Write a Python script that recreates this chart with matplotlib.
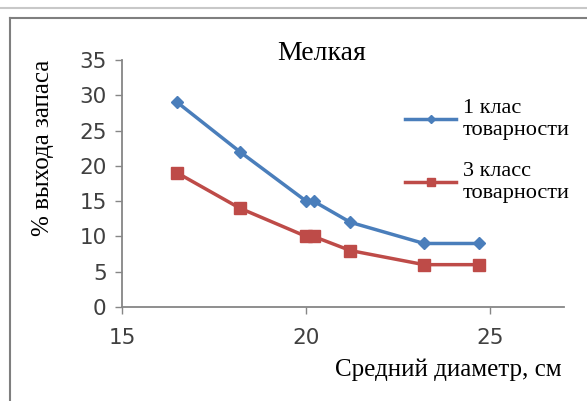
import numpy as np
import matplotlib
matplotlib.use('Agg')
import matplotlib.pyplot as plt
from matplotlib.lines import Line2D

# --------------------------------------------------
# Data
# --------------------------------------------------
diameter = [16.5, 18.2, 20.0, 20.2, 21.2, 23.2, 24.7]
class1 = [29, 22, 15, 15, 12, 9, 9]
class3 = [19, 14, 10, 10, 8, 6, 6]

title = 'Мелкая'
label1 = '1 клас\nтоварности'
label3 = '3 класс\nтоварности'
xlabel = 'Средний диаметр, см'
ylabel = '% выхода запаса'

serif = ['Liberation Serif', 'DejaVu Serif']

fig = plt.figure(figsize=(5.87, 4.01), dpi=100)
ax = fig.add_axes([122 / 587, 1 - 307 / 401, (564 - 122) / 587, (307 - 60) / 401])

ax.plot(diameter, class1, color='#4A7EBB', lw=2.5, marker='D', ms=6.5,
        label=label1)
ax.plot(diameter, class3, color='#BE4B48', lw=2.5, marker='s', ms=8.5,
        label=label3)

ax.set_xlim(15, 27)
ax.set_ylim(0, 35)
ax.set_xticks([15, 20, 25])
ax.set_yticks(np.arange(0, 36, 5))

for side in ['top', 'right']:
    ax.spines[side].set_visible(False)
for side in ['left', 'bottom']:
    ax.spines[side].set_color('#868686')
    ax.spines[side].set_linewidth(1.3)

ax.tick_params(axis='both', colors='#868686', length=5, width=1,
               labelsize=15.5, labelcolor='#404040',
               labelfontfamily='DejaVu Sans')
ax.tick_params(axis='y', pad=6)
ax.tick_params(axis='x', pad=10)

fig.text(322 / 587, 1 - 54 / 401, title, family=serif, fontsize=20,
         ha='center', va='center', color='#000000')
fig.text(43 / 587, 1 - 148 / 401, ylabel, family=serif, fontsize=18,
         rotation=90, ha='center', va='center')
fig.text(448 / 587, 1 - 370 / 401, xlabel, family=serif, fontsize=18,
         ha='center', va='center')

leg = ax.legend(loc='upper left', bbox_to_anchor=(405 / 587, 1 - 99 / 401),
                bbox_transform=fig.transFigure, frameon=False,
                prop={'family': serif, 'size': 16}, handlelength=2.3,
                handletextpad=0.3, labelspacing=1.0, markerscale=0.6,
                borderpad=0, borderaxespad=0)
for t in leg.get_texts():
    t.set_linespacing(1.2)

# chart frame lines
fig.add_artist(Line2D([0, 1], [1 - 8 / 401] * 2, color='#c8c8c8', lw=1.5))
fig.add_artist(Line2D([10 / 587, 1], [1 - 18 / 401] * 2, color='#7f7f7f', lw=1.5))
fig.add_artist(Line2D([10 / 587] * 2, [0, 1 - 18 / 401], color='#7f7f7f', lw=1.5))

fig.savefig('out.png', dpi=100)
